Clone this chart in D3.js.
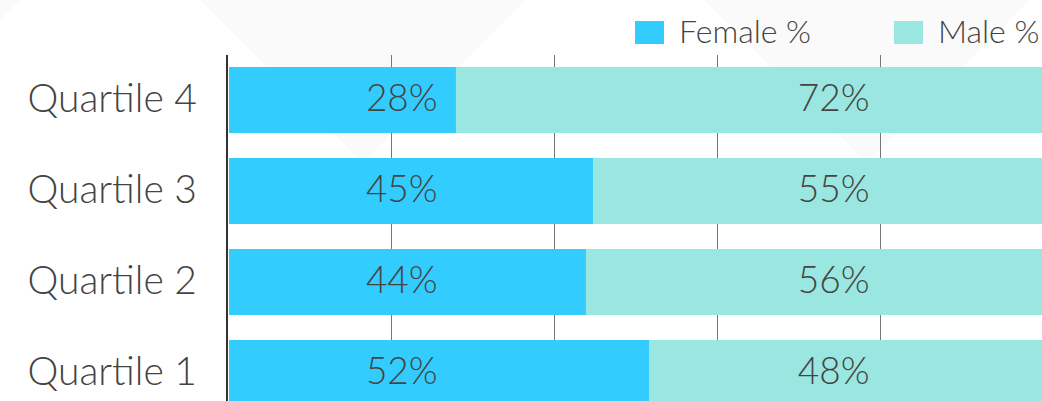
<!DOCTYPE html>
<html>
<head>
<meta charset="utf-8">
<script src="https://cdn.jsdelivr.net/npm/d3@7"></script>
<style>
  html, body { margin: 0; padding: 0; background: #ffffff; }
  svg { display: block; font-family: Lato, "Open Sans", sans-serif; font-weight: 300; }
</style>
</head>
<body>
<svg id="chart" width="1042" height="401"></svg>
<script>
// ---- data ----
const categories = ["Quartile 4", "Quartile 3", "Quartile 2", "Quartile 1"];
const femaleValues = [27.85, 44.7, 43.8, 51.6];
const maleValues = [72.15, 55.3, 56.2, 48.4];
const seriesNames = ["Female %", "Male %"];
const gridTicks = [20, 40, 60, 80];

// ---- styles / layout ----
const colors = ["#33ccff", "#9ae6e0"];
const textColor = "#444444";
const W = 1042, H = 401;
const plotLeft = 229, plotRight = 1044;
const labelPos = [21.2, 74.2]; // value-label anchor positions on the % scale

const svg = d3.select("#chart");

// faint background chevrons
const bg = svg.append("g");
const apexY = 163;
[-143, 363, 867].forEach(ax => {
  bg.append("path")
    .attr("d", `M${ax - apexY},0 L${ax + apexY},0 L${ax},${apexY} Z`)
    .attr("fill", "#fafafa");
});

const x = d3.scaleLinear().domain([0, 100]).range([plotLeft, plotRight]);
const y = d3.scaleBand().domain(categories).range([67, 406])
  .paddingInner(25 / 91).paddingOuter(0);

// gridlines
svg.append("g").selectAll("line").data(gridTicks).join("line")
  .attr("x1", d => Math.round(x(d)) - 0.5).attr("x2", d => Math.round(x(d)) - 0.5)
  .attr("y1", 55).attr("y2", H)
  .attr("stroke", "#777").attr("stroke-width", 1);

// stacked data
const rows = categories.map((c, i) => ({ cat: c, vals: [femaleValues[i], maleValues[i]] }));
const stackData = rows.map(r => {
  let acc = 0;
  return r.vals.map((v, k) => { const s = { cat: r.cat, k, v, x0: acc, x1: acc + v }; acc += v; return s; });
}).flat();

svg.append("g").selectAll("rect").data(stackData).join("rect")
  .attr("x", d => x(d.x0))
  .attr("width", d => x(d.x1) - x(d.x0))
  .attr("y", d => y(d.cat))
  .attr("height", y.bandwidth())
  .attr("fill", d => colors[d.k]);

// value labels
svg.append("g").selectAll("text").data(stackData).join("text")
  .attr("x", d => x(labelPos[d.k]))
  .attr("y", d => y(d.cat) + y.bandwidth() / 2)
  .attr("dy", "0.3em")
  .attr("text-anchor", "middle")
  .attr("font-size", 37)
  .attr("fill", textColor)
  .text(d => Math.round(d.v) + "%");

// y axis
const yAxis = svg.append("g").attr("transform", `translate(227,0)`)
  .call(d3.axisLeft(y).tickSize(0).tickPadding(30));
yAxis.select(".domain").remove();
yAxis.selectAll("text")
  .attr("font-family", "Lato, sans-serif").attr("font-weight", 300)
  .attr("font-size", 39).attr("fill", textColor).attr("dy", "0.3em");
svg.append("line").attr("x1", 227).attr("x2", 227).attr("y1", 55).attr("y2", H)
  .attr("stroke", "#333").attr("stroke-width", 2);

// legend
const legendX = [635, 894];
const lg = svg.append("g").selectAll("g").data(seriesNames).join("g")
  .attr("transform", (d, i) => `translate(${legendX[i]},21)`);
lg.append("rect").attr("width", 29).attr("height", 23).attr("fill", (d, i) => colors[i]);
lg.append("text").attr("x", 44).attr("y", 11.5).attr("dy", "0.34em")
  .attr("font-size", 32).attr("fill", textColor).text(d => d);
</script>
</body>
</html>
